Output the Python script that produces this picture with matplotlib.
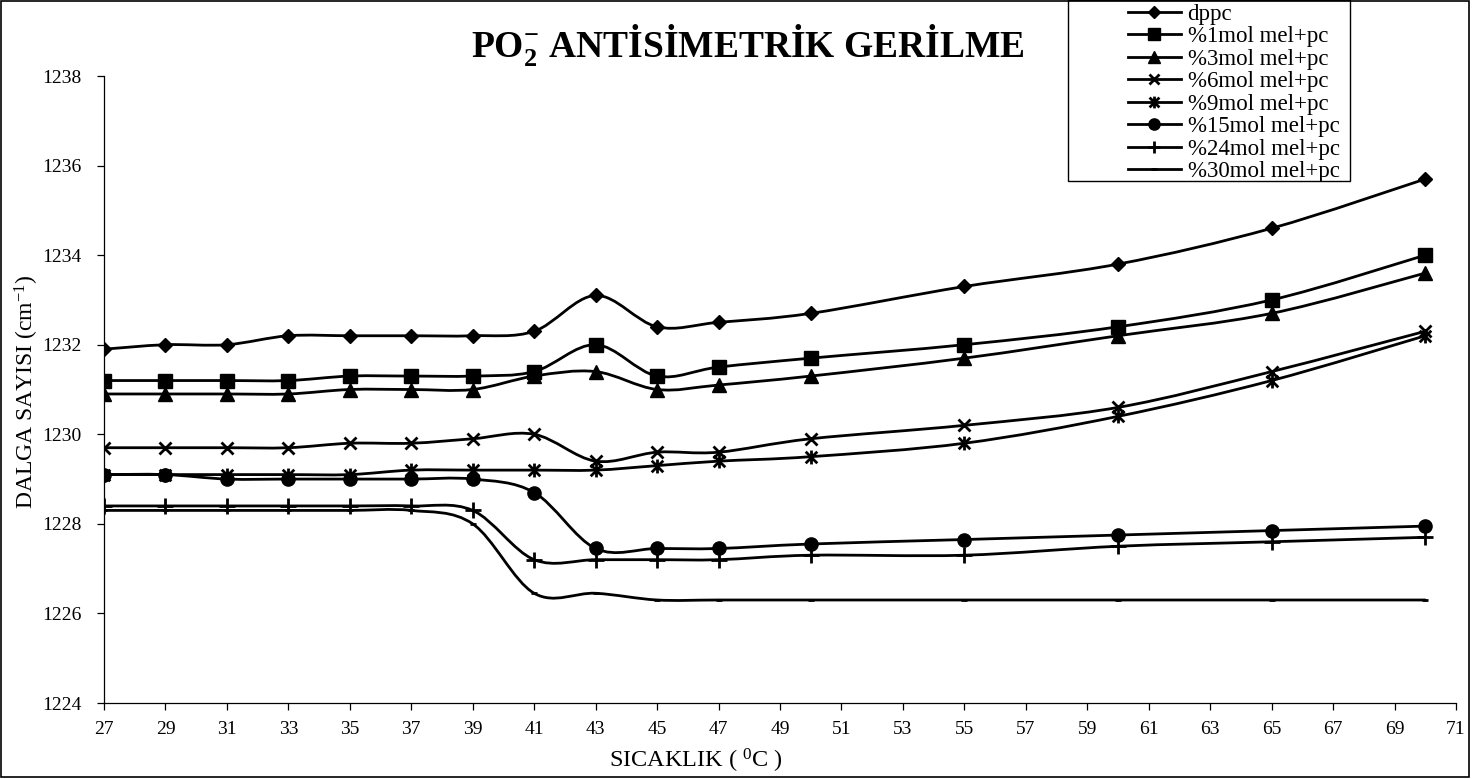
import numpy as np
import matplotlib
matplotlib.use("Agg")
import matplotlib.pyplot as plt
from matplotlib.path import Path
from matplotlib.patches import PathPatch, Rectangle
from matplotlib.lines import Line2D

plt.rcParams['font.family'] = ['Liberation Serif', 'DejaVu Serif']
plt.rcParams['mathtext.fontset'] = 'custom'
plt.rcParams['mathtext.rm'] = 'Liberation Serif'
plt.rcParams['mathtext.it'] = 'Liberation Serif:italic'
plt.rcParams['mathtext.bf'] = 'Liberation Serif:bold'

# veriler
sicaklik = [27, 29, 31, 33, 35, 37, 39, 41, 43, 45, 47, 50, 55, 60, 65, 70]
dppc = [1231.9, 1232.0, 1232.0, 1232.2, 1232.2, 1232.2, 1232.2, 1232.3,
        1233.1, 1232.4, 1232.5, 1232.7, 1233.3, 1233.8, 1234.6, 1235.7]
mol1 = [1231.2, 1231.2, 1231.2, 1231.2, 1231.3, 1231.3, 1231.3, 1231.4,
        1232.0, 1231.3, 1231.5, 1231.7, 1232.0, 1232.4, 1233.0, 1234.0]
mol3 = [1230.9, 1230.9, 1230.9, 1230.9, 1231.0, 1231.0, 1231.0, 1231.3,
        1231.4, 1231.0, 1231.1, 1231.3, 1231.7, 1232.2, 1232.7, 1233.6]
mol6 = [1229.7, 1229.7, 1229.7, 1229.7, 1229.8, 1229.8, 1229.9, 1230.0,
        1229.4, 1229.6, 1229.6, 1229.9, 1230.2, 1230.6, 1231.4, 1232.3]
mol9 = [1229.1, 1229.1, 1229.1, 1229.1, 1229.1, 1229.2, 1229.2, 1229.2,
        1229.2, 1229.3, 1229.4, 1229.5, 1229.8, 1230.4, 1231.2, 1232.2]
mol15 = [1229.1, 1229.1, 1229.0, 1229.0, 1229.0, 1229.0, 1229.0, 1228.7,
         1227.45, 1227.45, 1227.45, 1227.55, 1227.65, 1227.75, 1227.85, 1227.95]
mol24 = [1228.4, 1228.4, 1228.4, 1228.4, 1228.4, 1228.4, 1228.3, 1227.2,
         1227.2, 1227.2, 1227.2, 1227.3, 1227.3, 1227.5, 1227.6, 1227.7]
mol30 = [1228.3, 1228.3, 1228.3, 1228.3, 1228.3, 1228.3, 1228.0, 1226.45,
         1226.45, 1226.3, 1226.3, 1226.3, 1226.3, 1226.3, 1226.3, 1226.3]

etiketler = ['dppc', '%1mol mel+pc', '%3mol mel+pc', '%6mol mel+pc',
             '%9mol mel+pc', '%15mol mel+pc', '%24mol mel+pc', '%30mol mel+pc']
seriler = [dppc, mol1, mol3, mol6, mol9, mol15, mol24, mol30]

# excel yildiz isareti: x + dikey cizgi
yildiz = Path([(-0.5, -0.5), (0.5, 0.5), (-0.5, 0.5), (0.5, -0.5), (0, -0.6), (0, 0.6)],
              [Path.MOVETO, Path.LINETO, Path.MOVETO, Path.LINETO, Path.MOVETO, Path.LINETO])
isaretler = [('D', 7.5), ('s', 9.5), ('^', 10), ('x', 9), (yildiz, 10),
             ('o', 9.5), ('+', 11), ('_', 5)]


def egri(xs, ys):
    # excel'deki gibi yumusatilmis cizgi (catmull-rom -> bezier)
    p = np.column_stack([xs, ys]).astype(float)
    n = len(p)
    verts = [p[0]]
    codes = [Path.MOVETO]
    for i in range(n - 1):
        p0 = p[max(i - 1, 0)]
        p1 = p[i]
        p2 = p[i + 1]
        p3 = p[min(i + 2, n - 1)]
        verts += [p1 + (p2 - p0) / 6, p2 - (p3 - p1) / 6, p2]
        codes += [Path.CURVE4] * 3
    return Path(verts, codes)


fig = plt.figure(figsize=(14.72, 7.79), dpi=100)
ax = fig.add_axes([104 / 1472, 76 / 779, 1352 / 1472, 627 / 779])

handles = []
for ys, (m, ms), lab in zip(seriler, isaretler, etiketler):
    ax.add_patch(PathPatch(egri(sicaklik, ys), fill=False, lw=2, edgecolor='black',
                           capstyle='round', joinstyle='round'))
    mew = 2 if m in ('x', '+', '_') or isinstance(m, Path) else 1
    ax.plot(sicaklik, ys, ls='none', marker=m, ms=ms, color='black', mew=mew)
    handles.append(Line2D([], [], color='black', lw=2, marker=m, ms=ms * 0.85, mew=mew))

ax.set_xlim(27, 71)
ax.set_ylim(1224, 1238)
ax.set_xticks(np.arange(27, 72, 2))
ax.set_yticks(np.arange(1224, 1239, 2))
for s in ['top', 'right']:
    ax.spines[s].set_visible(False)
for s in ['left', 'bottom']:
    ax.spines[s].set_linewidth(0.9)
ax.tick_params(direction='out', length=5, width=0.9, labelsize=14)
ax.tick_params(axis='y', pad=11)
ax.tick_params(axis='x', pad=8)

ax.set_xlabel('SICAKLIK ( $^{0}$C )', fontsize=17.5, va='center')
ax.xaxis.set_label_coords((696 - 104) / 1352, -(761 - 703) / 627)
ax.set_ylabel('DALGA SAYISI (cm$^{-1}$)', fontsize=17, va='center')
ax.yaxis.set_label_coords(-(104 - 27) / 1352, (703 - 392) / 627)

fig.text(0.508, 0.942, r'$\mathbf{PO}_{\mathbf{2}}^{\mathbf{-}}$ ANTİSİMETRİK GERİLME',
         fontsize=27, fontweight='bold', ha='center', va='center')

# lejant cercevesi
fig.add_artist(Rectangle((1068 / 1472, 1 - 181 / 779), 282 / 1472, 181 / 779,
                         transform=fig.transFigure, fill=False, edgecolor='black', lw=1))
fig.legend(handles, etiketler, loc='upper left', bbox_to_anchor=(1128 / 1472, 1 - 4 / 779),
           frameon=False, fontsize=16.5, borderpad=0, borderaxespad=0,
           handlelength=2.3, handletextpad=0.3, labelspacing=0.06)

# dis cerceve
fig.add_artist(Rectangle((0.001, 0.002), 0.997, 0.997, transform=fig.transFigure,
                         fill=False, edgecolor='black', lw=1.2))

fig.savefig('out.png', dpi=100)
